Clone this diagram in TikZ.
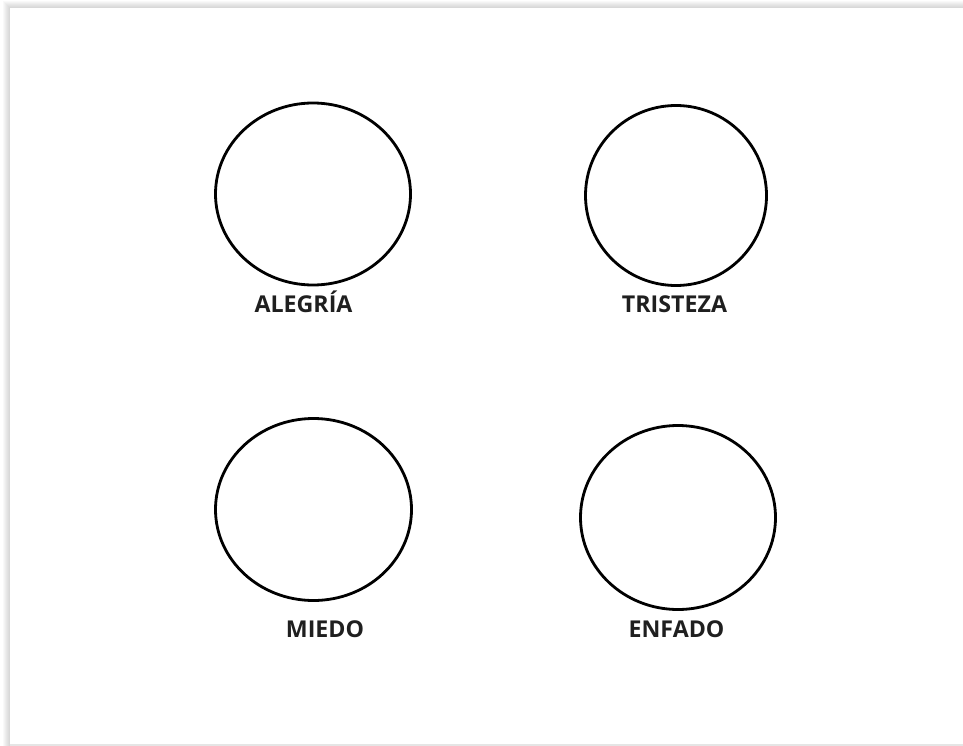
\documentclass[tikz,border=0pt]{standalone}
\usepackage{fontspec}
\setmainfont{Open Sans}
\usetikzlibrary{shapes.geometric,positioning}
\tikzset{
  emoface/.style={draw=black, ellipse, line width=2.8pt, inner sep=0pt, minimum width=194pt, minimum height=180pt},
  emolabel/.style={font=\fontsize{23.2}{27}\selectfont\bfseries, text=black!88, anchor=base, inner sep=0pt},
  pageshade/.style={fill=black, opacity=#1},
}

\begin{document}
\begin{tikzpicture}[x=1pt, y=-1pt]
  \useasboundingbox (0,0) rectangle (963,746);
  % sheet with a soft shadow on the left and top
  \foreach \s in {1,...,7}
    \fill[pageshade=0.025] (10-\s,8-\s) rectangle (963,746);
  \fill[black!10] (10,744) rectangle (963,746);
  \fill[white] (10,8) rectangle (963,744);

  \node[emoface, minimum width=195pt, minimum height=182pt] (alegria) at (313,194) {};
  \node[emoface, minimum width=181pt, minimum height=180pt] (tristeza) at (676,195.5) {};
  \node[emoface, minimum width=196pt, minimum height=182pt] (miedo) at (313.5,509.5) {};
  \node[emoface, minimum width=195pt, minimum height=184pt] (enfado) at (678,517.5) {};

  \node[emolabel] (lblalegria) at (303.5,312) {ALEGRÍA};
  \node[emolabel] (lbltristeza) at (674.5,312) {TRISTEZA};
  \node[emolabel] (lblmiedo) at (325,637) {MIEDO};
  \node[emolabel] (lblenfado) at (676.5,637) {ENFADO};
\end{tikzpicture}
\end{document}
